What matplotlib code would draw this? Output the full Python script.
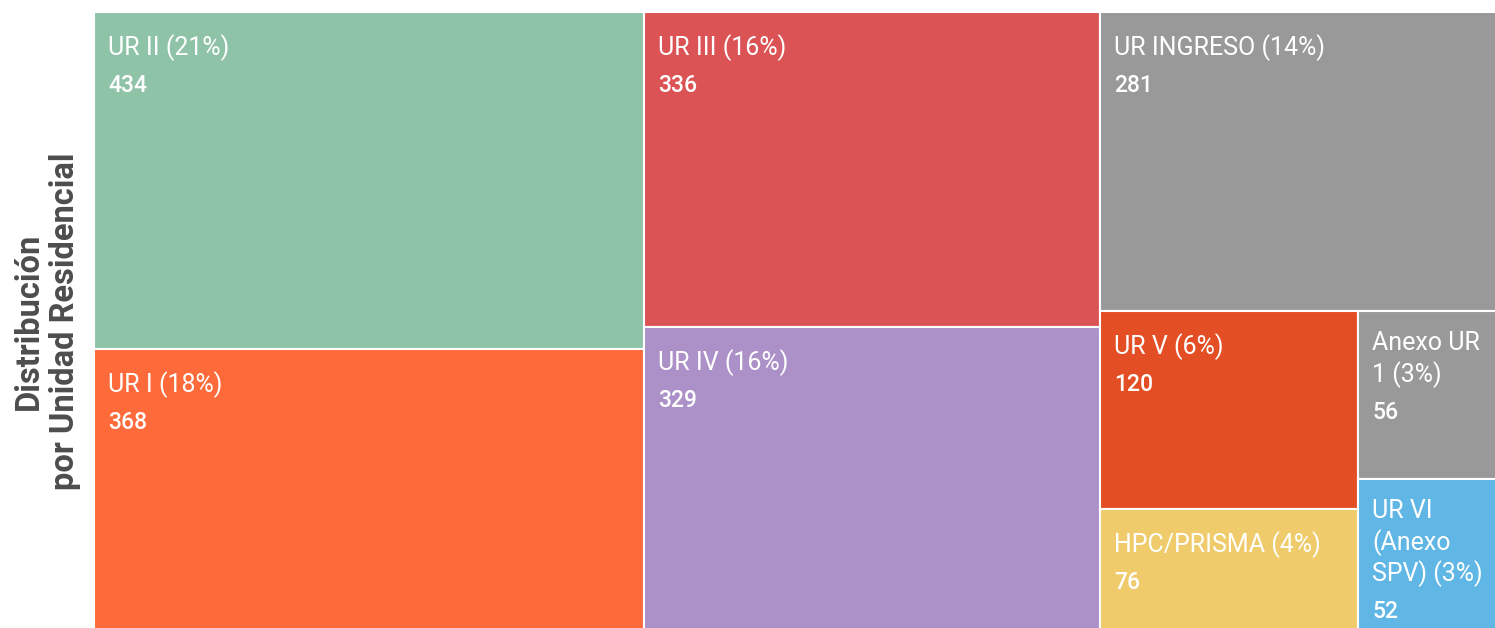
import matplotlib
matplotlib.use("Agg")
import matplotlib.pyplot as plt
from matplotlib.patches import Rectangle

# data
names = ["UR II", "UR I", "UR III", "UR IV", "UR INGRESO", "UR V",
         "HPC/PRISMA", "Anexo UR 1", "UR VI (Anexo SPV)"]
values = [434, 368, 336, 329, 281, 120, 76, 56, 52]
colors = ["#8fc3a8", "#fe6a39", "#dc5356", "#ab91c7", "#999999",
          "#e34e24", "#efcb6b", "#999999", "#60b6e4"]
title = "Distribución\npor Unidad Residencial"

FIG_W, FIG_H = 1495, 628
# layout box of the treemap in pixels (it runs a little past the right/bottom edge)
LEFT, TOP, W, H = 94, 12, 1407, 623


def squarify(vals, x0, y0, x1, y1, ratio=(1 + 5 ** 0.5) / 2):
    """d3-style squarified treemap, returns (x, y, w, h) per value."""
    rects = []
    total = float(sum(vals))
    i0, n = 0, len(vals)
    while i0 < n:
        dx, dy = x1 - x0, y1 - y0
        s = vals[i0]
        vmin = vmax = s
        alpha = max(dy / dx, dx / dy) / (total * ratio)
        beta = s * s * alpha
        best = max(vmax / beta, beta / vmin)
        i1 = i0 + 1
        while i1 < n:
            v = vals[i1]
            s2 = s + v
            beta = s2 * s2 * alpha
            r = max(max(vmax, v) / beta, beta / min(vmin, v))
            if r > best:
                break
            s, best = s2, r
            vmin, vmax = min(vmin, v), max(vmax, v)
            i1 += 1
        row = vals[i0:i1]
        if dx < dy:
            h = dy * s / total
            xx = x0
            for v in row:
                w = dx * v / s
                rects.append((xx, y0, w, h))
                xx += w
            y0 += h
        else:
            w = dx * s / total
            yy = y0
            for v in row:
                h = dy * v / s
                rects.append((x0, yy, w, h))
                yy += h
            x0 += w
        total -= s
        i0 = i1
    return rects


fig = plt.figure(figsize=(FIG_W / 100, FIG_H / 100), dpi=100)
ax = fig.add_axes([LEFT / FIG_W, (FIG_H - TOP - H) / FIG_H, W / FIG_W, H / FIG_H])
ax.set_xlim(0, W)
ax.set_ylim(H, 0)
ax.axis("off")

renderer = fig.canvas.get_renderer()
name_kw = dict(color="white", fontsize=18, family="Roboto", va="baseline", ha="left")
val_kw = dict(color="white", fontsize=16.5, family="Roboto", weight="medium",
              va="baseline", ha="left")


def text_width(s):
    t = ax.text(0, 0, s, **name_kw)
    w = t.get_window_extent(renderer).width
    t.remove()
    return w


def wrap(s, maxw):
    lines = []
    for word in s.split():
        if lines and text_width(lines[-1] + " " + word) <= maxw:
            lines[-1] += " " + word
        else:
            lines.append(word)
    return lines


total = sum(values)
pad = 14
for (x, y, w, h), name, v, c in zip(squarify(values, 0, 0, W, H), names, values, colors):
    ax.add_patch(Rectangle((x, y), w, h, facecolor=c, edgecolor="white", linewidth=1.5))
    label = f"{name} ({round(100 * v / total)}%)"
    lines = wrap(label, w - 2 * pad)
    base = y + (43 if len(lines) == 1 else 39)
    for i, line in enumerate(lines):
        ax.text(x + pad, base + i * 31.5, line, **name_kw)
    ax.text(x + pad, base + (len(lines) - 1) * 31.5 + 37, str(v), **val_kw)

fig.text(47 / FIG_W, 1 - 321 / FIG_H, title, rotation=90, ha="center", va="center",
         multialignment="center", fontsize=23.5, weight="bold", family="Roboto",
         color="#4d4d4d", linespacing=1.15)

fig.savefig("out.png", dpi=100)
